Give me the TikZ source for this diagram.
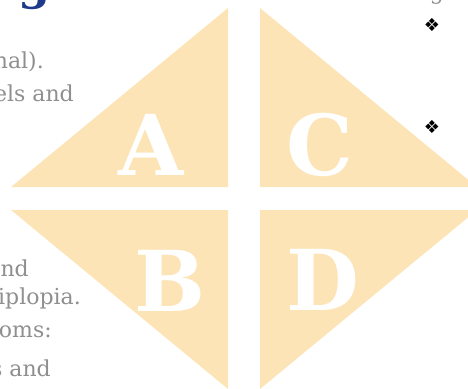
\documentclass[tikz,border=0pt]{standalone}
\usepackage{fontspec}
\setmainfont{DejaVu Serif}
\newfontfamily\symfont{DejaVu Sans}
\definecolor{panel}{HTML}{FCE4B6}
\definecolor{textgray}{HTML}{8F8F8F}
\definecolor{titleblue}{HTML}{1F3A8A}
\tikzset{
  tri/.style={fill=panel},
  letter/.style={text=white, inner sep=0pt, font=\bfseries\fontsize{84}{84}\selectfont},
  frag/.style={text=textgray, inner sep=0pt, anchor=base east, font=\fontsize{22}{22}\selectfont},
  bullet/.style={inner sep=0pt, font=\symfont\fontsize{18}{18}\selectfont}
}

\begin{document}
\begin{tikzpicture}[x=1pt, y=-1pt]
  % Frame 468 x 388, y runs down
  \useasboundingbox (0,0) rectangle (468,388);
  \clip (0,0) rectangle (468,388);

  % Corners of the split diamond
  \coordinate (Atop) at (228,8);
  \coordinate (Acor) at (228,187);
  \coordinate (Aleft) at (11,187);
  \coordinate (Ctop) at (260,8);
  \coordinate (Ccor) at (260,187);
  \coordinate (Cright) at (477,187);
  \coordinate (Bcor) at (228,210);
  \coordinate (Bbot) at (228,389);
  \coordinate (Bleft) at (11,210);
  \coordinate (Dcor) at (260,210);
  \coordinate (Dbot) at (260,389);
  \coordinate (Dright) at (477,210);

  % Text cut off at the left
  \node[frag] (t1) at (44,68)  {nal).};
  \node[frag] (t2) at (74,101) {els and};
  \node[frag] (t3) at (29,276) {nd};
  \node[frag] (t4) at (81,304) {iplopia.};
  \node[frag] (t5) at (52,337) {oms:};
  \node[frag] (t6) at (51,376) {s and};

  % Tails of the headings above
  \node[text=titleblue, inner sep=0pt, anchor=base, font=\bfseries\fontsize{46}{46}\selectfont] (h1) at (35,-1) {g};
  \node[text=textgray, inner sep=0pt, anchor=base, font=\fontsize{22}{22}\selectfont] (h2) at (437,-1) {g};

  % Bullets
  \node[bullet] (b1) at (432,25)  {❖};
  \node[bullet] (b2) at (432,127) {❖};

  % Four triangles
  \fill[tri] (Atop) -- (Acor) -- (Aleft) -- cycle;
  \fill[tri] (Ctop) -- (Ccor) -- (Cright) -- cycle;
  \fill[tri] (Bcor) -- (Bbot) -- (Bleft) -- cycle;
  \fill[tri] (Dcor) -- (Dbot) -- (Dright) -- cycle;

  % Letters
  \node[letter] (A) at (151,145) {A};
  \node[letter] (C) at (320,145) {C};
  \node[letter] (B) at (170,281) {B};
  \node[letter] (D) at (323,280) {D};
\end{tikzpicture}
\end{document}
